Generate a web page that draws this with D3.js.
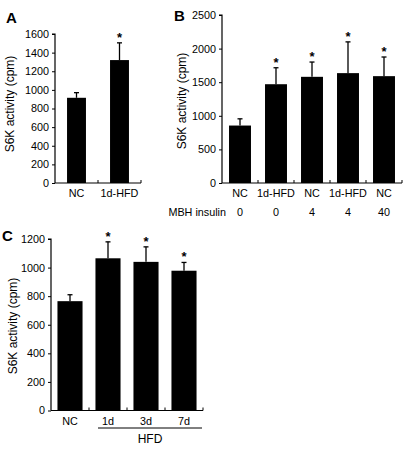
<!DOCTYPE html>
<html><head><meta charset="utf-8">
<script src="https://cdn.jsdelivr.net/npm/d3@7"></script>
<style>
body{margin:0;background:#fff;}
text{font-family:"Liberation Sans",Arial,sans-serif;fill:#000;}
</style></head>
<body><svg id="c" width="406" height="451"></svg>
<script>
// Panel A
const catsA = ["NC","1d-HFD"];
const valsA = [915, 1320];
const errA = [55, 185];
const sigA = [false, true];
const ticksA = [0,200,400,600,800,1000,1200,1400,1600];
// Panel B
const catsB = ["NC","1d-HFD","NC","1d-HFD","NC"];
const insulinB = ["0","0","4","4","40"];
const valsB = [855, 1470, 1580, 1635, 1590];
const errB = [100, 245, 220, 465, 285];
const sigB = [false, true, true, true, true];
const ticksB = [0,500,1000,1500,2000,2500];
// Panel C
const catsC = ["NC","1d","3d","7d"];
const valsC = [765, 1065, 1040, 978];
const errC = [45, 115, 105, 58];
const sigC = [false, true, true, true];
const ticksC = [0,200,400,600,800,1000,1200];

const svg = d3.select("#c");
const FS = 10.8;

function panel(o){
  const g = svg.append("g");
  const x = d3.scaleBand().domain(o.cats.map((d,i)=>i)).range([o.x0,o.x1]).paddingInner(o.pad).paddingOuter(o.pad/2);
  const y = d3.scaleLinear().domain([0,o.max]).range([o.y0,o.y1]);
  const ya = d3.axisLeft(y).tickValues(o.ticks).tickSize(3).tickPadding(3).tickFormat(d3.format("d"));
  const yg = g.append("g").attr("transform",`translate(${o.x0},0)`).call(ya);
  yg.select(".domain").attr("stroke","#000").attr("stroke-width",1.2).attr("d",`M-3,${o.y1}H0V${o.y0}`);
  yg.selectAll("text").attr("font-size",FS).style("font-family","'Liberation Sans',Arial,sans-serif");
  g.append("line").attr("x1",o.x0).attr("x2",o.x1).attr("y1",o.y0).attr("y2",o.y0).attr("stroke","#000").attr("stroke-width",1.2);
  const step = x.step();
  o.cats.forEach((c,i)=>{
    const bx = o.x0 + step*(i+1);
    g.append("line").attr("x1",bx).attr("x2",bx).attr("y1",o.y0).attr("y2",o.y0-3).attr("stroke","#000");
  });
  g.selectAll("rect.bar").data(o.vals).join("rect").attr("class","bar")
    .attr("x",(d,i)=>x(i)).attr("width",x.bandwidth()).attr("y",d=>y(d)).attr("height",d=>o.y0-y(d)).attr("fill","#000");
  o.vals.forEach((v,i)=>{
    const cx = x(i)+x.bandwidth()/2;
    g.append("line").attr("x1",cx).attr("x2",cx).attr("y1",y(v)).attr("y2",y(v+o.err[i])).attr("stroke","#000").attr("stroke-width",1.3);
    g.append("line").attr("x1",cx-2.5).attr("x2",cx+2.5).attr("y1",y(v+o.err[i])).attr("y2",y(v+o.err[i])).attr("stroke","#000").attr("stroke-width",1.3);
    if(o.sig[i]) g.append("text").attr("x",cx).attr("y",y(v+o.err[i])-1).attr("text-anchor","middle").attr("font-size",13).attr("font-weight","bold").text("*");
    g.append("text").attr("x",cx).attr("y",o.y0+14).attr("text-anchor","middle").attr("font-size",FS).text(o.cats[i]);
  });
  g.append("text").attr("transform",`translate(${o.tx},${o.ty}) rotate(-90)`).attr("text-anchor","middle").attr("font-size",12).text("S6K activity (cpm)");
  g.append("text").attr("x",o.lx).attr("y",o.ly).attr("font-size",15).attr("font-weight","bold").text(o.letter);
  return {g,x,y};
}

panel({cats:catsA,vals:valsA,err:errA,sig:sigA,ticks:ticksA,max:1600,x0:55,x1:141,y0:183,y1:34,pad:0.56,tx:14,ty:104,lx:6,ly:23,letter:"A"});
const pB = panel({cats:catsB,vals:valsB,err:errB,sig:sigB,ticks:ticksB,max:2500,x0:222,x1:402,y0:183,y1:15,pad:0.39,tx:186,ty:101,lx:174,ly:21,letter:"B"});
const pC = panel({cats:catsC,vals:valsC,err:errC,sig:sigC,ticks:ticksC,max:1200,x0:51,x1:203,y0:410.5,y1:239,pad:0.34,tx:17,ty:326,lx:2,ly:241,letter:"C"});

pB.g.append("text").attr("x",226).attr("y",216).attr("text-anchor","end").attr("font-size",FS).text("MBH insulin");
insulinB.forEach((t,i)=>{
  pB.g.append("text").attr("x",pB.x(i)+pB.x.bandwidth()/2).attr("y",216).attr("text-anchor","middle").attr("font-size",FS).text(t);
});
pC.g.append("line").attr("x1",98).attr("x2",202).attr("y1",428).attr("y2",428).attr("stroke","#000");
pC.g.append("text").attr("x",(98+202)/2).attr("y",443).attr("text-anchor","middle").attr("font-size",12).text("HFD");
</script></body></html>
